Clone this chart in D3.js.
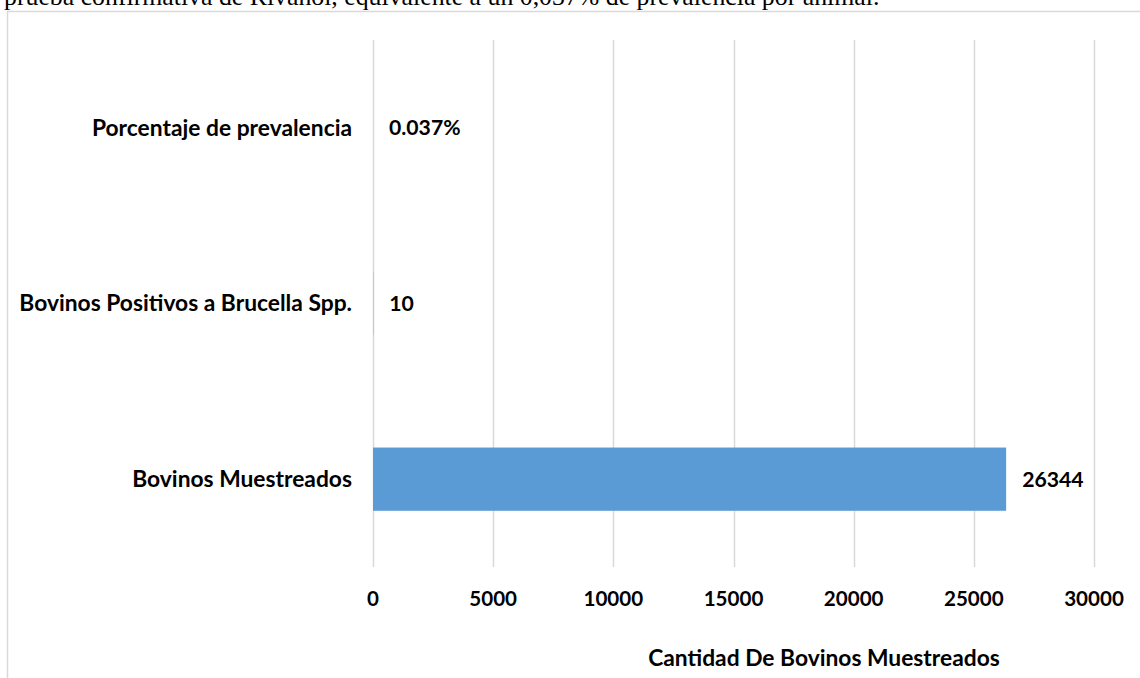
<!DOCTYPE html>
<html>
<head>
<meta charset="utf-8">
<script src="https://cdn.jsdelivr.net/npm/d3@7"></script>
<style>
  html, body { margin: 0; padding: 0; background: #fff; }
  svg { display: block; }
</style>
</head>
<body>
<svg id="chart" width="1140" height="678"></svg>
<script>
// Categories (top to bottom) and their values
const categories = ["Porcentaje de prevalencia", "Bovinos Positivos a Brucella Spp.", "Bovinos Muestreados"];
const values = [0.037, 10, 26344];
const valueLabels = ["0.037%", "10", "26344"];
const tickValues = [0, 5000, 10000, 15000, 20000, 25000, 30000];
const axisTitle = "Cantidad De Bovinos Muestreados";
const captionText = "prueba confirmativa de Rivanol, equivalente a un 0,037% de prevalencia por animal.";

const svg = d3.select("#chart");
const labelFont = "Lato, Carlito, 'Open Sans', sans-serif";

// Running text above the chart frame
svg.append("text")
  .attr("x", 4).attr("y", 5)
  .attr("font-family", "'Liberation Serif', 'Times New Roman', serif")
  .attr("font-size", 25.8)
  .attr("fill", "#000")
  .text(captionText);

// Chart frame (top and left edges)
svg.append("path")
  .attr("d", "M7.5,678 V11.5 H1140")
  .attr("fill", "none")
  .attr("stroke", "#d9d9d9")
  .attr("stroke-width", 1.5);

const x = d3.scaleLinear().domain([0, 30000]).range([373, 1094]);
const y = d3.scaleBand().domain(categories).range([40, 567])
  .paddingInner(0.64).paddingOuter(0.32);

// Vertical gridlines
svg.append("g").selectAll("line")
  .data(tickValues).join("line")
  .attr("x1", d => Math.round(x(d)) + 0.5)
  .attr("x2", d => Math.round(x(d)) + 0.5)
  .attr("y1", 40).attr("y2", 567)
  .attr("stroke", "#d9d9d9")
  .attr("stroke-width", 1.5);

// Bars
svg.append("g").selectAll("rect")
  .data(categories).join("rect")
  .attr("x", x(0))
  .attr("y", d => y(d))
  .attr("width", (d, i) => x(values[i]) - x(0))
  .attr("height", y.bandwidth())
  .attr("fill", "#5b9bd5");

// Category labels
svg.append("g").selectAll("text")
  .data(categories).join("text")
  .attr("x", 352)
  .attr("y", d => y(d) + y.bandwidth() / 2)
  .attr("dy", "0.35em")
  .attr("text-anchor", "end")
  .attr("font-family", labelFont)
  .attr("font-weight", "bold")
  .attr("font-size", 22.8)
  .attr("fill", "#000")
  .text(d => d);

// Value labels
svg.append("g").selectAll("text")
  .data(categories).join("text")
  .attr("x", (d, i) => x(values[i]) + 16)
  .attr("y", d => y(d) + y.bandwidth() / 2)
  .attr("dy", "0.35em")
  .attr("font-family", labelFont)
  .attr("font-weight", "bold")
  .attr("font-size", 21.2)
  .attr("fill", "#000")
  .text((d, i) => valueLabels[i]);

// Tick labels
svg.append("g").selectAll("text")
  .data(tickValues).join("text")
  .attr("x", d => x(d))
  .attr("y", 599)
  .attr("dy", "0.35em")
  .attr("text-anchor", "middle")
  .attr("font-family", labelFont)
  .attr("font-weight", "bold")
  .attr("font-size", 20.6)
  .attr("fill", "#000")
  .text(d => d);

// Axis title
svg.append("text")
  .attr("x", 824)
  .attr("y", 658)
  .attr("dy", "0.35em")
  .attr("text-anchor", "middle")
  .attr("font-family", labelFont)
  .attr("font-weight", "bold")
  .attr("font-size", 22.8)
  .attr("fill", "#000")
  .text(axisTitle);
</script>
</body>
</html>
